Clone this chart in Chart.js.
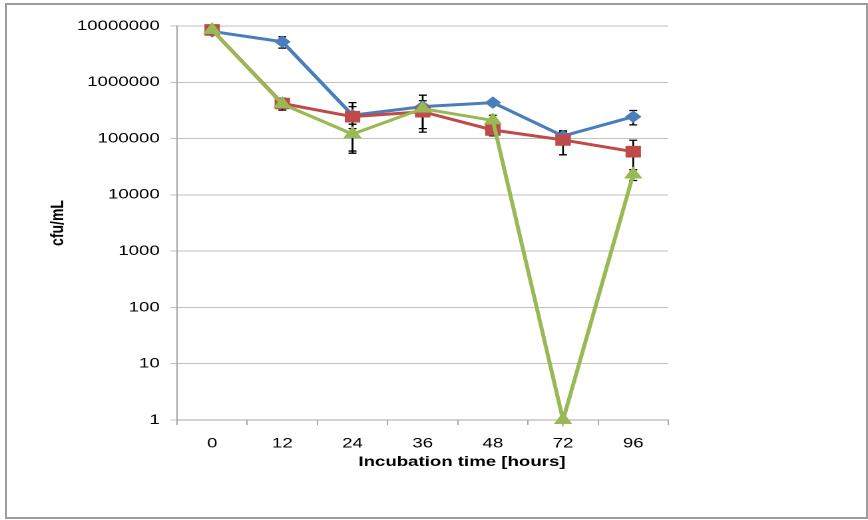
<!DOCTYPE html>
<html>
<head>
<meta charset="utf-8">
<script src="https://cdn.jsdelivr.net/npm/chart.js@4/dist/chart.umd.min.js"></script>
<style>
  body { margin: 0; background: #fff; }
  #frame { position: absolute; left: 5px; top: 3px; width: 863px; height: 516px; box-sizing: border-box; border: 2px solid #9c9c9c; }
  #wrap { position: absolute; left: 0; top: 0; width: 652px; height: 520px; transform: scaleX(1.3313); transform-origin: 0 0; }
</style>
</head>
<body>
<div id="wrap"><canvas id="chart" width="652" height="520"></canvas></div>
<div id="frame"></div>
<script>
const hours = ['0', '12', '24', '36', '48', '72', '96'];
const yTicks = [1, 10, 100, 1000, 10000, 100000, 1000000, 10000000];

const blueValues = [8.0e6, 5.25e6, 2.6e5, 3.7e5, 4.35e5, 1.11e5, 2.45e5];
const blueSd = [0, 1.2e6, 1.1e5, 2.2e5, 4e4, 2e4, 7e4];

const redValues = [8.5e6, 4.2e5, 2.45e5, 3.0e5, 1.42e5, 9.45e4, 5.85e4];
const redSd = [0, 1e5, 1.9e5, 1.7e5, 3e4, 4.3e4, 3.5e4];

const greenValues = [8.5e6, 4.1e5, 1.2e5, 3.4e5, 2.1e5, 1, 2.3e4];
const greenSd = [0, 5e4, 6e4, 5e4, 5e4, 0, 5e3];

const FONT = 'Liberation Sans, Arial, sans-serif';

// excel style error bars, drawn under the markers
const errorBars = {
  id: 'errorBars',
  beforeDatasetsDraw(chart) {
    const { ctx, scales: { x, y } } = chart;
    ctx.save();
    ctx.strokeStyle = '#000';
    ctx.lineWidth = 1.3;
    chart.data.datasets.forEach((ds) => {
      ds.data.forEach((v, i) => {
        const sd = ds.sd[i];
        if (!sd) return;
        const px = x.getPixelForValue(i);
        const top = y.getPixelForValue(v + sd);
        const low = v - sd > 0 ? y.getPixelForValue(v - sd) : y.bottom;
        ctx.beginPath();
        ctx.moveTo(px, top);
        ctx.lineTo(px, low);
        ctx.moveTo(px - 3, top);
        ctx.lineTo(px + 3, top);
        ctx.moveTo(px - 3, low);
        ctx.lineTo(px + 3, low);
        ctx.stroke();
      });
    });
    ctx.restore();
  }
};

// x axis title sits right of the axis centre in the original
const xTitle = {
  id: 'xTitle',
  afterDraw(chart) {
    const { ctx } = chart;
    ctx.save();
    ctx.font = 'bold 14px ' + FONT;
    ctx.fillStyle = '#000';
    ctx.textAlign = 'center';
    ctx.textBaseline = 'middle';
    ctx.fillText('Incubation time [hours]', 347, 462);
    ctx.restore();
  }
};

const ctx = document.getElementById('chart').getContext('2d');

new Chart(ctx, {
  type: 'line',
  data: {
    labels: hours,
    datasets: [
      {
        data: blueValues, sd: blueSd, order: 3,
        borderColor: '#4a7ebb', backgroundColor: '#4a7ebb',
        borderWidth: 3, pointStyle: 'rectRot', pointRadius: 5.5, pointBorderWidth: 1,
      },
      {
        data: redValues, sd: redSd, order: 2,
        borderColor: '#be4b48', backgroundColor: '#be4b48',
        borderWidth: 3, pointStyle: 'rect', pointRadius: 7.5, pointBorderWidth: 1,
      },
      {
        data: greenValues, sd: greenSd, order: 1,
        borderColor: '#98b954', backgroundColor: '#98b954',
        borderWidth: 3, pointStyle: 'triangle', pointRadius: 7, pointBorderWidth: 1,
      },
    ],
  },
  options: {
    responsive: false,
    animation: false,
    devicePixelRatio: 2,
    clip: false,
    layout: { padding: { left: 0, right: 150, top: 26, bottom: 0 } },
    plugins: { legend: { display: false }, tooltip: { enabled: false } },
    elements: { line: { tension: 0 } },
    scales: {
      x: {
        type: 'category',
        offset: true,
        grid: { offset: true, drawOnChartArea: false, drawTicks: true, tickLength: 5, color: '#a6a6a6' },
        border: { display: true, color: '#a6a6a6', width: 1 },
        ticks: { color: '#000', padding: 10, font: { family: FONT, size: 14 } },
        afterFit: (scale) => { scale.height = 100; },
      },
      y: {
        type: 'logarithmic',
        min: 1,
        max: 10000000,
        afterBuildTicks: (scale) => { scale.ticks = yTicks.map((v) => ({ value: v })); },
        grid: { color: '#c0c0c0', lineWidth: 1, tickLength: 5 },
        border: { display: true, color: '#a6a6a6', width: 1 },
        ticks: {
          color: '#000', padding: 8, font: { family: FONT, size: 14 },
          callback: (v) => String(v),
        },
        title: {
          display: true, text: 'cfu/mL', color: '#000',
          font: { family: FONT, size: 14, weight: 'bold' },
          padding: { top: 35, bottom: 0 },
        },
        afterFit: (scale) => { scale.width = 133; },
      },
    },
  },
  plugins: [errorBars, xTitle],
});
</script>
</body>
</html>
